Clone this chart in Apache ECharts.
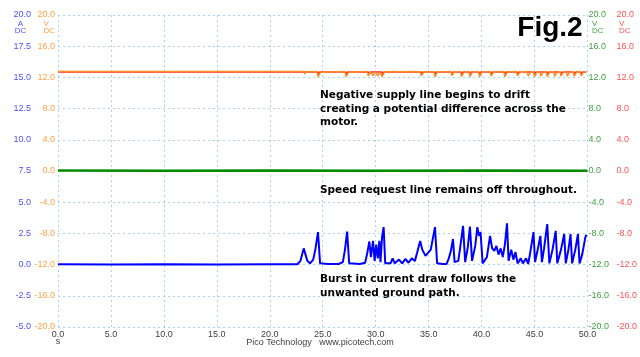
<!DOCTYPE html>
<html>
<head>
<meta charset="utf-8">
<script src="https://cdn.jsdelivr.net/npm/echarts@6/dist/echarts.min.js"></script>
<style>html,body{margin:0;padding:0;background:#fff}#c{width:640px;height:357px}</style>
</head>
<body>
<div id="c"></div>
<script>
// Time axis ticks (s)
const xTicks = [0, 5, 10, 15, 20, 25, 30, 35, 40, 45, 50];
// Current channel (A) : [time s, current A]
const currentA = [
  [0,0.02],[5,0.0],[10,0.03],[15,0.0],[20,0.02],[22.6,0.03],
  [22.9,0.3],[23.2,1.3],[23.35,1.45],[23.55,0.3],[23.8,0.1],[24.1,0.4],[24.3,1.2],[24.55,2.6],[24.75,0.1],
  [25.5,0.05],[26.5,0.05],[26.9,0.2],[27.1,1.2],[27.3,2.65],[27.5,0.1],
  [28.5,0.05],[29.0,0.15],[29.2,0.9],[29.4,1.85],[29.55,0.6],[29.75,1.9],[29.9,0.3],[30.05,1.6],[30.2,0.5],[30.35,1.9],[30.45,0.2],[30.6,2.2],[30.75,3.0],[30.9,0.1],
  [31.4,0.1],[31.6,0.5],[31.8,0.1],[32.2,0.4],[32.5,0.1],[32.8,0.45],[33.1,0.15],[33.4,0.5],[33.7,0.3],[33.9,0.9],[34.2,1.9],[34.4,1.2],[34.7,0.7],[34.9,0.9],[35.2,1.2],[35.4,2.1],[35.6,3.0],[35.8,0.1],
  [36.3,0.05],[36.7,0.05],[36.9,0.5],[37.1,1.1],[37.3,2.05],[37.45,0.2],[37.8,0.3],[38.0,1.5],[38.25,3.1],[38.45,0.2],[38.7,1.4],[38.9,3.05],[39.1,0.3],[39.4,1.5],[39.6,3.0],[39.75,2.3],[39.9,2.6],[40.1,0.1],
  [40.5,0.6],[40.8,2.3],[41.0,1.3],[41.2,1.1],[41.4,1.5],[41.6,0.8],[41.8,1.3],[42.0,0.6],[42.2,1.6],[42.4,3.3],[42.55,0.3],[42.8,1.2],[43.0,0.4],[43.2,1.0],[43.4,0.1],[43.7,0.5],[43.9,0.1],[44.2,0.5],[44.4,0.05],
  [44.6,1.0],[44.9,2.6],[45.05,0.2],[45.3,1.2],[45.55,2.3],[45.7,0.2],[45.9,1.3],[46.2,3.25],[46.4,0.1],[46.7,1.2],[47.0,2.7],[47.15,0.1],[47.5,1.2],[47.8,2.45],[47.95,0.1],
  [48.2,1.2],[48.4,2.45],[48.55,0.1],[48.85,1.2],[49.1,2.45],[49.25,0.1],[49.5,0.8],[49.8,2.2],[49.9,2.4]
];
// Negative supply line (V, orange, left V axis)
const supplyV = [
  [0,12.75],[10,12.75],[20,12.75],[23.2,12.75],[23.3,12.45],[23.45,12.72],
  [24.45,12.75],[24.55,12.1],[24.8,12.65],[27.1,12.75],[27.2,12.1],[27.45,12.65],
  [29.2,12.75],[29.3,12.2],[29.5,12.7],[29.75,12.2],[29.95,12.7],[30.2,12.2],[30.4,12.7],[30.6,12.1],[30.85,12.7],
  [31.5,12.75],[32.5,12.72],[33.5,12.75],[34.2,12.7],[34.3,12.2],[34.55,12.7],[35.5,12.72],[35.6,12.1],[35.85,12.7],
  [37.1,12.75],[37.2,12.2],[37.4,12.7],[38.0,12.75],[38.1,12.1],[38.35,12.7],[38.8,12.75],[38.9,12.1],[39.15,12.7],
  [39.7,12.75],[39.8,12.1],[40.05,12.7],[40.8,12.75],[40.9,12.15],[41.15,12.7],[41.6,12.72],[42.1,12.75],[42.2,12.1],[42.45,12.7],
  [43.3,12.75],[43.4,12.2],[43.65,12.7],[44.3,12.75],[44.4,12.2],[44.65,12.7],[44.9,12.75],[45.0,12.1],[45.25,12.7],
  [45.5,12.75],[45.6,12.15],[45.85,12.7],[46.1,12.75],[46.2,12.1],[46.45,12.7],[46.8,12.75],[46.9,12.15],[47.15,12.7],
  [47.4,12.75],[47.5,12.15],[47.75,12.7],[48.0,12.75],[48.1,12.15],[48.35,12.7],[48.65,12.75],[48.75,12.15],[49.0,12.7],
  [49.3,12.75],[49.4,12.2],[49.65,12.7],[49.9,12.72]
];
// Second supply channel (V, red, right axis)
const supplyRedV = [
  [0,12.7],[23.25,12.7],[23.3,12.5],[23.4,12.7],[24.5,12.7],[24.55,12.35],[24.7,12.7],[27.15,12.7],[27.2,12.35],[27.35,12.7],
  [29.3,12.7],[29.35,12.4],[29.5,12.7],[30.6,12.7],[30.65,12.35],[30.8,12.7],[34.3,12.7],[34.35,12.4],[34.5,12.7],
  [35.55,12.7],[35.6,12.35],[35.75,12.7],[37.15,12.7],[37.2,12.4],[37.35,12.7],[38.05,12.7],[38.1,12.35],[38.25,12.7],
  [38.85,12.7],[38.9,12.35],[39.05,12.7],[39.75,12.7],[39.8,12.35],[39.95,12.7],[40.85,12.7],[40.9,12.4],[41.05,12.7],
  [42.15,12.7],[42.2,12.35],[42.35,12.7],[43.35,12.7],[43.4,12.4],[43.55,12.7],[44.95,12.7],[45.0,12.35],[45.15,12.7],
  [46.15,12.7],[46.2,12.35],[46.35,12.7],[47.45,12.7],[47.5,12.4],[47.65,12.7],[48.7,12.7],[48.75,12.4],[48.9,12.7],
  [49.35,12.7],[49.4,12.4],[49.55,12.7],[49.9,12.7]
];
// Speed request line (V, green)
const speedV = [[0,0.05],[10,0.02],[20,0.05],[30,0.03],[40,0.05],[50,0.03]];

const f1 = v => v.toFixed(1);
const lbl = (c) => ({ color: c, fontSize: 9, fontFamily: 'Liberation Sans, Arial, sans-serif', formatter: f1 });
const chart = echarts.init(document.getElementById('c'));
const gridLine = { show: true, lineStyle: { color: '#a8d2f0', type: [2, 3], width: 1 } };
const txt = (x, y, s, align, c, size, bold) => ({
  type: 'text', x: x, y: y, z: 100,
  style: { text: s, x: 0, y: 0, textAlign: align, textVerticalAlign: 'middle', fill: c,
    font: (bold ? 'bold ' : '') + size + 'px ' + (bold ? '"DejaVu Sans"' : '"Liberation Sans", Arial, sans-serif') }
});
chart.setOption({
  animation: false,
  backgroundColor: '#fff',
  grid: { left: 58, right: 50, top: 15, bottom: 30 },
  xAxis: {
    type: 'value', min: 0, max: 50, interval: 5,
    axisLine: { show: false }, axisTick: { show: false },
    axisLabel: { color: '#404040', fontSize: 9, fontFamily: 'Liberation Sans, Arial, sans-serif', margin: 3, formatter: f1 },
    splitLine: gridLine
  },
  yAxis: [
    { type: 'value', position: 'left', offset: 24, min: -5, max: 20, interval: 2.5,
      axisLine: { show: false }, axisTick: { show: false }, axisLabel: Object.assign(lbl('#5050ff'), { margin: 3 }), splitLine: gridLine },
    { type: 'value', position: 'left', offset: 0, min: -20, max: 20, interval: 4,
      axisLine: { show: false }, axisTick: { show: false }, axisLabel: Object.assign(lbl('#ffa040'), { margin: 3 }), splitLine: { show: false } },
    { type: 'value', position: 'right', offset: 0, min: -20, max: 20, interval: 4,
      axisLine: { show: false }, axisTick: { show: false }, axisLabel: Object.assign(lbl('#40a040'), { margin: 1 }), splitLine: { show: false } },
    { type: 'value', position: 'right', offset: 28, min: -20, max: 20, interval: 4,
      axisLine: { show: false }, axisTick: { show: false }, axisLabel: Object.assign(lbl('#ff5050'), { margin: 1 }), splitLine: { show: false } }
  ],
  series: [
    { type: 'line', yAxisIndex: 2, data: speedV, showSymbol: false, lineStyle: { color: '#008a00', width: 2.5 } },
    { type: 'line', yAxisIndex: 3, data: supplyRedV, showSymbol: false, lineStyle: { color: '#ff2020', width: 1.5 } },
    { type: 'line', yAxisIndex: 1, data: supplyV, showSymbol: false, lineStyle: { color: '#ff8c28', width: 1.5 } },
    { type: 'line', yAxisIndex: 0, data: currentA, showSymbol: false, lineStyle: { color: '#0000ff', width: 2 } }
  ],
  graphic: [
    txt(20.5, 23.5, 'A', 'center', '#5050ff', 8, false),
    txt(20.5, 30.5, 'DC', 'center', '#5050ff', 8, false),
    txt(43.5, 23.5, 'V', 'left', '#ffa040', 8, false),
    txt(43.5, 30.5, 'DC', 'left', '#ffa040', 8, false),
    txt(592, 23.5, 'V', 'left', '#40a040', 8, false),
    txt(592, 30.5, 'DC', 'left', '#40a040', 8, false),
    txt(619, 23.5, 'V', 'left', '#ff5050', 8, false),
    txt(619, 30.5, 'DC', 'left', '#ff5050', 8, false),
    txt(58, 342, 's', 'center', '#404040', 9, false),
    txt(320, 343, 'Pico Technology   www.picotech.com', 'center', '#404040', 9, false),
    { type: 'text', x: 550, y: 28, z: 100, style: { text: 'Fig.2', textAlign: 'center', textVerticalAlign: 'middle', fill: '#000', font: 'bold 28px "Liberation Sans", Arial, sans-serif' } },
    txt(320, 95.5, 'Negative supply line begins to drift', 'left', '#000', 10.5, true),
    txt(320, 109, 'creating a potential difference across the', 'left', '#000', 10.5, true),
    txt(320, 122.5, 'motor.', 'left', '#000', 10.5, true),
    txt(320, 190, 'Speed request line remains off throughout.', 'left', '#000', 10.5, true),
    txt(320, 279, 'Burst in current draw follows the', 'left', '#000', 10.5, true),
    txt(320, 293, 'unwanted ground path.', 'left', '#000', 10.5, true)
  ]
});
</script>
</body>
</html>
